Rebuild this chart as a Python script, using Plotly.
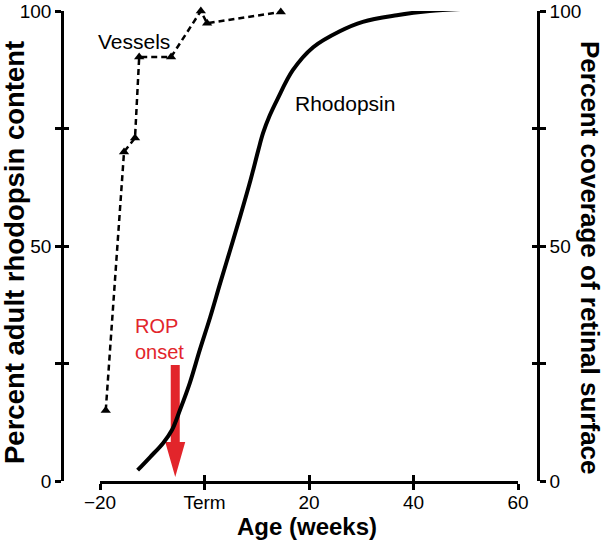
import plotly.graph_objects as go

# ---- data ----
vessel_age = [-18.9, -15.4, -13.3, -12.5, -6.4, -0.7, 0.5, 14.6]
vessel_cov = [15.0, 70.0, 73.0, 90.2, 90.2, 100.0, 97.4, 99.8]

rhod_age = [-12.8, -10.4, -7.9, -6.2, -4.7, -2.8, -0.9, 1.1, 3.0, 4.9, 6.8, 8.8,
            10.3, 11.2, 12.5, 13.9, 16.9, 20.8, 25.9, 30.3, 36.8, 43.1, 50.4]
rhod_pct = [2.3, 5.1, 8.1, 10.9, 15.1, 20.9, 27.9, 34.9, 42.1, 49.1, 56.2, 64.0,
            70.4, 74.0, 77.8, 81.1, 87.4, 92.3, 95.7, 97.7, 99.1, 100.0, 100.5]

x_tickvals = [-20, 0, 20, 40, 60]
x_ticktext = ["\u221220", "Term", "20", "40", "60"]
y_tickvals = [0, 25, 50, 75, 100]
y_ticktext = ["0", "", "50", "", "100"]

rop_onset = -5.6          # weeks
rop_arrow_top = 24.7      # % (arrow tail)
rop_head_base = 8.3
rop_tip = 0.85

FONT = "Liberation Sans, Arial, sans-serif"
RED = "#e2252b"
AXW = 2.6

fig = go.Figure()

fig.add_trace(go.Scatter(
    x=rhod_age, y=rhod_pct, mode="lines", line=dict(color="black", width=4, shape="spline", smoothing=1.0),
    xaxis="x", yaxis="y", showlegend=False, hoverinfo="skip"))

fig.add_trace(go.Scatter(
    x=vessel_age, y=vessel_cov, mode="lines+markers",
    line=dict(color="black", width=2.5, dash="6px,4px"),
    marker=dict(symbol="triangle-up", size=9, color="black"),
    xaxis="x", yaxis="y2", showlegend=False, cliponaxis=False, hoverinfo="skip"))

# invisible traces to anchor the inside-tick overlay axes
fig.add_trace(go.Scatter(x=[None], y=[None], xaxis="x2", yaxis="y3", showlegend=False))
fig.add_trace(go.Scatter(x=[None], y=[None], xaxis="x2", yaxis="y4", showlegend=False))

dom = [(100 - 62) / 476, (518 - 62) / 476]

common_x = dict(range=[-20, 60], domain=dom, tickvals=x_tickvals, showgrid=False, zeroline=False,
                tickcolor="black", tickwidth=AXW, fixedrange=True)
common_y = dict(range=[0, 100], tickvals=y_tickvals, showgrid=False, zeroline=False,
                tickcolor="black", tickwidth=AXW, fixedrange=True)

fig.update_layout(
    width=604, height=543,
    margin=dict(l=62, r=66, t=11, b=62, autoexpand=False),
    paper_bgcolor="white", plot_bgcolor="white",
    font=dict(family=FONT, color="black"),
    xaxis=dict(**common_x, anchor="y", ticktext=x_ticktext, ticks="outside", ticklen=6,
               ticklabelstandoff=-4,
               showline=True, linecolor="black", linewidth=AXW,
               tickfont=dict(size=19, family=FONT, color="black")),
    xaxis2=dict(**common_x, anchor="y", overlaying="x", ticks="inside", ticklen=6,
                showticklabels=False, showline=False),
    yaxis=dict(**common_y, anchor="free", position=0, ticktext=y_ticktext, ticks="outside", ticklen=6,
               showline=True, linecolor="black", linewidth=AXW,
               tickfont=dict(size=19, family=FONT, color="black")),
    yaxis2=dict(**common_y, anchor="free", position=1, side="right", overlaying="y",
                ticktext=y_ticktext, ticks="outside", ticklen=6,
                showline=True, linecolor="black", linewidth=AXW,
                tickfont=dict(size=19, family=FONT, color="black")),
    yaxis3=dict(**common_y, anchor="free", position=0, overlaying="y", ticks="inside", ticklen=6,
                showticklabels=False, showline=False),
    yaxis4=dict(**common_y, anchor="free", position=1, side="right", overlaying="y", ticks="inside",
                ticklen=6, showticklabels=False, showline=False),
)

# ROP onset arrow (x anchored at the onset age, widths in pixels)
fig.add_shape(type="path", xref="x", yref="y", xsizemode="pixel", xanchor=rop_onset,
              path=(f"M-4.5,{rop_arrow_top} L4.5,{rop_arrow_top} L4.5,{rop_head_base} "
                    f"L10,{rop_head_base} L0,{rop_tip} L-10,{rop_head_base} L-4.5,{rop_head_base} Z"),
              fillcolor=RED, line=dict(width=0), layer="below")

ann = [
    dict(text="Vessels", x=-13.4, y=93.6, xref="x", yref="y", showarrow=False,
         xanchor="center", yanchor="middle", font=dict(size=21, family=FONT, color="black")),
    dict(text="Rhodopsin", x=26.9, y=80.4, xref="x", yref="y", showarrow=False,
         xanchor="center", yanchor="middle", font=dict(size=21, family=FONT, color="black")),
    dict(text="ROP<br>onset", x=-13.7, y=30.3, xref="x", yref="y", showarrow=False,
         xanchor="left", yanchor="middle", align="left", font=dict(size=20, family=FONT, color=RED)),
    dict(text="<b>Age (weeks)</b>", x=(307 - 62) / 476, y=(481 - 526) / 470, xref="paper", yref="paper",
         xanchor="center", yanchor="middle", showarrow=False, font=dict(size=24, family=FONT, color="black")),
    dict(text="<b>Percent adult rhodopsin content</b>", x=(15 - 62) / 476, y=(481 - 253) / 470,
         xref="paper", yref="paper", textangle=-90, showarrow=False, xanchor="center", yanchor="middle",
         font=dict(size=27.5, family=FONT, color="black")),
    dict(text="<b>Percent coverage of retinal surface</b>", x=(590 - 62) / 476, y=(481 - 258) / 470,
         xref="paper", yref="paper", textangle=90, showarrow=False, xanchor="center", yanchor="middle",
         font=dict(size=26, family=FONT, color="black")),
]
fig.update_layout(annotations=ann)

fig.write_html("out.html", config={"displayModeBar": False},
               post_script="document.body.style.margin='0';")
